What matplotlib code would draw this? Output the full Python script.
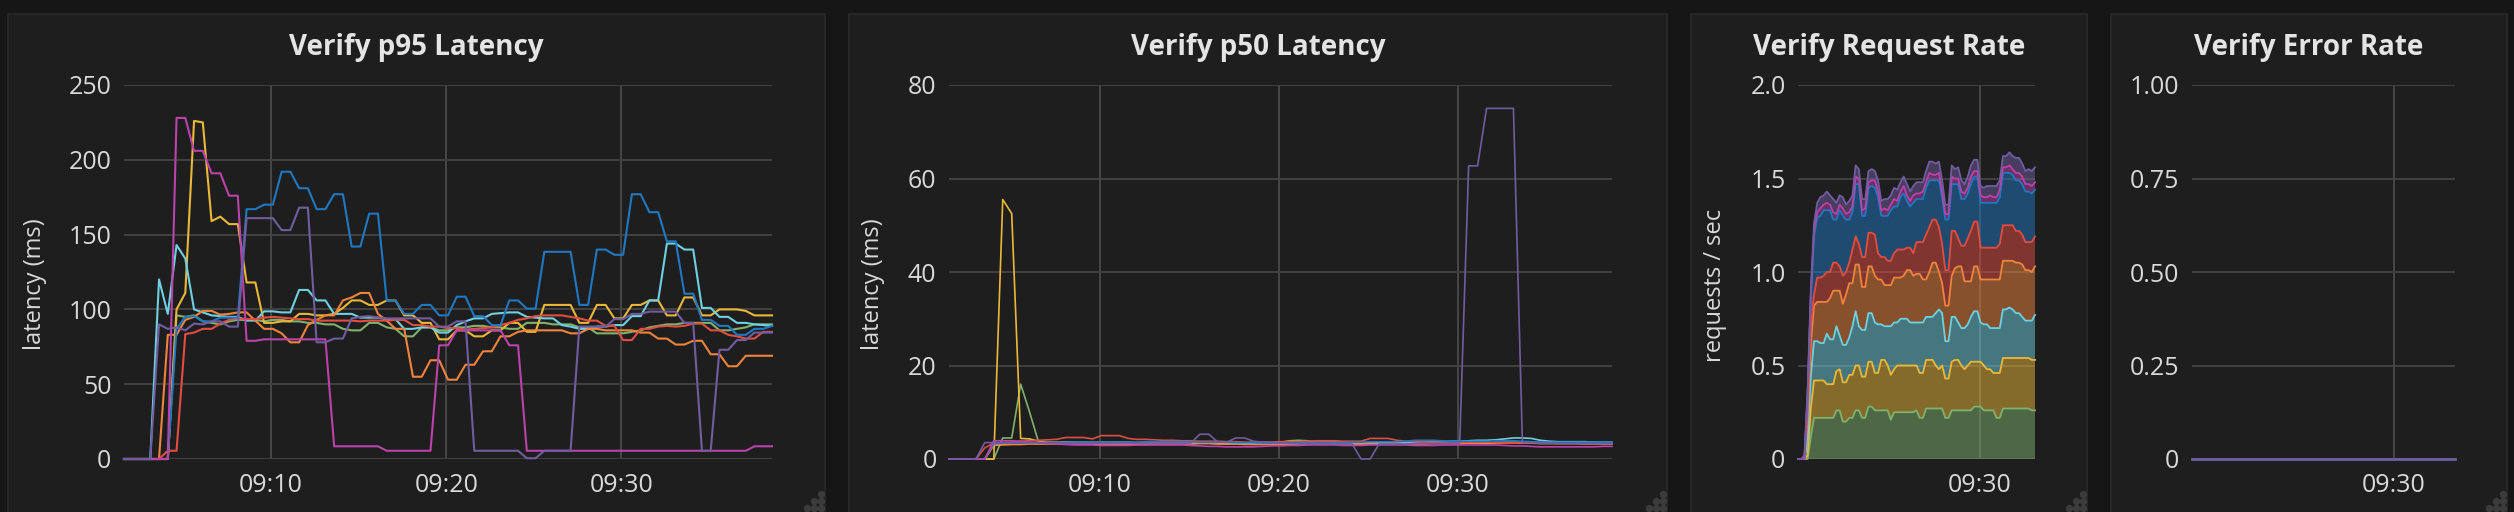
import numpy as np
import pandas as pd
import matplotlib
matplotlib.use("Agg")
import matplotlib.pyplot as plt
import matplotlib.dates as mdates
from matplotlib.patches import Rectangle
from matplotlib.lines import Line2D

plt.rcParams['font.family'] = ['Open Sans', 'DejaVu Sans']

# --- data (30 s samples) ---
day = "2017-06-01"
times = pd.date_range(f"{day} 09:01:36", periods=75, freq="30s")

series_names = ["green", "yellow", "cyan", "orange", "red", "blue", "magenta", "purple"]
colors = ["#7EB26D", "#EAB839", "#6ED0E0", "#EF843C", "#E24D42", "#1F78C1", "#BA43A9", "#705DA0"]

# p95 latency (ms)
p95_green = [0, 0, 0, 0, 0, 0, 96, 95, 96, 92, 91, 90, 92, 93, 93, 93, 92, 93, 93, 92, 92, 91, 91, 90, 90, 87,
             86, 86, 91, 91, 88, 87, 82, 82, 88, 88, 86, 86, 88, 88, 89, 89, 88, 88, 87, 87, 91, 91, 91, 90,
             90, 90, 88, 88, 84, 84, 84, 84, 85, 86, 88, 89, 90, 90, 91, 91, 91, 91, 86, 86, 87, 88, 90, 90, 90]
p95_yellow = [0, 0, 0, 0, 0, 0, 100, 111, 226, 225, 159, 162, 157, 157, 118, 118, 91, 91, 92, 92, 97, 97, 96, 96, 97, 101,
              106, 106, 103, 103, 106, 106, 96, 96, 91, 91, 80, 80, 86, 86, 82, 82, 86, 86, 91, 91, 85, 85, 103, 103,
              103, 103, 91, 91, 103, 103, 94, 94, 103, 103, 106, 106, 96, 96, 108, 108, 96, 96, 100, 100, 100, 99, 96, 96, 96]
p95_cyan = [0, 0, 0, 0, 120, 97, 143, 134, 100, 98, 96, 95.5, 95, 95, 92.5, 92.5, 98.7, 98.7, 98, 98, 113, 113, 106, 106, 97, 97,
            97, 94.5, 94.5, 94.5, 93.5, 93.5, 87, 87, 88, 88, 84.5, 84.5, 89.5, 92, 94, 94, 97, 97.5, 98, 98, 95, 94.5, 94, 94,
            89.5, 88.5, 87, 87, 88.5, 88.5, 89.5, 89.5, 95.5, 95.5, 106, 106, 144, 144, 140, 140, 101, 101, 95, 95, 91, 91, 90, 89.5, 89]
p95_orange = [0, 0, 0, 0, 0, 83, 83, 93, 95, 99, 99, 96.5, 97, 98, 98, 92.5, 87, 87, 84, 78, 78, 89.5, 93, 96, 96, 106,
              108, 111, 111, 97, 92.5, 87, 87, 55, 55, 66, 66, 53, 53, 63, 63, 72, 72, 82, 82, 85, 86, 86, 86, 86,
              86, 84, 84, 87, 87, 86, 86, 86, 86, 84.5, 84.5, 80.5, 80.5, 76.5, 76.5, 79, 79, 70, 70, 62, 62, 69, 69, 69, 69]
p95_red = [0, 0, 0, 0, 0, 5.5, 5.5, 83.5, 84.5, 87, 87, 90.5, 93, 94, 93.5, 93.5, 94.5, 95, 94.5, 94, 93.5, 93.5, 92.5, 92.5, 92.5, 92.5,
           92.5, 92, 92.5, 92.5, 92.5, 93, 93, 89.5, 89.5, 88.5, 88.5, 87.5, 87.5, 86.5, 87, 87.5, 88, 89.5, 91, 93, 94, 95.5, 96, 96,
           96, 95, 94, 92.5, 92.5, 89, 89, 79.5, 79.5, 87, 87, 88.5, 89, 88.5, 89, 90.5, 90.5, 86, 86, 83, 82, 80.5, 80.5, 85, 85]
p95_blue = [0, 0, 0, 0, 0, 0, 87, 95, 95.5, 92, 92, 94.5, 94.5, 94.5, 167, 167, 170, 170, 192, 192, 181, 181, 167, 167, 177, 177,
            142, 142, 164, 164, 106, 106, 97, 97, 103, 103, 96, 96, 108.5, 108.5, 95.5, 95.5, 89.5, 89.5, 106, 106, 100.5, 100.5, 138.5, 138.5,
            138.5, 138.5, 103, 103, 140, 140, 136.5, 136.5, 177, 177, 165, 165, 145.5, 145.5, 110.5, 110.5, 93, 93, 89, 89, 83, 83, 87, 87, 89]
p95_magenta = [0, 0, 0, 0, 0, 0, 228, 228, 206, 206, 191, 191, 176, 176, 79, 79, 80, 80, 80, 80, 80, 80, 80, 80, 8.5, 8.5,
               8.5, 8.5, 8.5, 8.5, 5.5, 5.5, 5.5, 5.5, 5.5, 5.5, 76, 76, 86, 86, 86, 86, 86, 86, 76, 76, 5.5, 5.5, 5.5, 5.5,
               5.5, 5.5, 5.5, 5.5, 5.5, 5.5, 5.5, 5.5, 5.5, 5.5, 5.5, 5.5, 5.5, 5.5, 5.5, 5.5, 5.5, 5.5, 5.5, 5.5, 5.5, 5.5, 8.5, 8.5, 8.5]
p95_purple = [0, 0, 0, 0, 90, 87, 88, 86, 90.5, 90, 92, 92, 88.5, 88.5, 161, 161, 161, 161, 153, 153, 168, 168, 78, 78, 80.5, 80.5,
              94, 95, 95.5, 94.5, 94, 94, 94, 94, 94, 94, 88.5, 88.5, 92, 92, 5.5, 5.5, 5.5, 5.5, 5.5, 5.5, 0.5, 0.5, 5.5, 5.5,
              5.5, 5.5, 88.5, 88.5, 88.5, 88.5, 93.5, 93.5, 97, 97, 98.5, 98.5, 98.5, 98.5, 91, 91, 5.5, 5.5, 73, 73, 79.5, 79.5, 84.5, 84.5, 84.5]

# p50 latency (ms)
p50_green = [0, 0, 0, 0, 0, 0, 4.5, 4.5, 16, 10, 3.6,
             3.6, 3.6, 3.5, 3.5, 3.5, 3.6, 3.6, 3.5, 3.5, 3.4,
             3.4, 3.4, 3.5, 3.5, 3.5, 3.4, 3.4, 3.4, 3.5, 3.5,
             3.4, 3.3, 3.3, 3.4, 3.4, 3.5, 3.6, 3.9, 4.0, 3.9,
             3.6, 3.5, 3.5, 3.5, 3.4, 3.4, 3.4, 3.5, 3.6, 3.6,
             3.5, 3.5, 3.4, 3.5, 3.6, 3.6, 3.5, 3.5, 3.4, 3.4,
             3.5, 3.6, 3.6, 3.5, 3.5, 3.4, 3.4, 3.4, 3.4, 3.4,
             3.4, 3.4, 3.4, 3.4]
p50_yellow = [0, 0, 0, 0, 0, 0, 55.5, 52.5, 4.4, 4.3, 3.8,
              3.5, 3.4, 3.4, 3.3, 3.3, 3.3, 3.3, 3.3, 3.3, 3.3,
              3.2, 3.2, 3.2, 3.2, 3.3, 3.3, 3.3, 3.4, 3.4, 3.3,
              3.3, 3.2, 3.2, 3.3, 3.3, 3.3, 3.2, 3.2, 3.3, 3.3,
              3.3, 3.3, 3.2, 3.2, 3.1, 3.1, 3.2, 3.3, 3.4, 3.4,
              3.3, 3.3, 3.3, 3.4, 3.4, 3.5, 3.5, 3.4, 3.4, 3.4,
              3.4, 3.5, 3.5, 3.6, 3.6, 3.5, 3.5, 3.4, 3.4, 3.4,
              3.4, 3.4, 3.4, 3.4]
p50_cyan = [0, 0, 0, 0, 0, 3.2, 3.3, 3.3, 3.4, 3.4, 3.4,
            3.5, 3.5, 3.6, 3.6, 3.6, 3.5, 3.5, 3.6, 3.6, 3.6,
            3.5, 3.5, 3.5, 3.5, 3.5, 3.4, 3.4, 3.4, 3.4, 3.4,
            3.3, 3.3, 3.2, 3.2, 3.2, 3.3, 3.3, 3.3, 3.3, 3.4,
            3.5, 3.6, 3.6, 3.6, 3.6, 3.5, 3.4, 3.4, 3.5, 3.5,
            3.6, 3.6, 3.6, 3.7, 3.7, 3.8, 3.8, 3.9, 4.0, 4.0,
            4.1, 4.3, 4.5, 4.5, 4.4, 4.0, 3.8, 3.7, 3.7, 3.7,
            3.7, 3.6, 3.6, 3.6]
p50_orange = [0, 0, 0, 0, 0, 2.9, 3.0, 3.1, 3.1, 3.2, 3.2,
              3.2, 3.2, 3.3, 3.3, 3.2, 3.2, 3.2, 3.2, 3.2, 3.1,
              3.1, 3.1, 3.2, 3.2, 3.2, 3.2, 3.2, 3.3, 3.3, 3.2,
              3.2, 3.2, 3.1, 3.1, 3.1, 3.1, 3.2, 3.2, 3.3, 3.3,
              3.3, 3.3, 3.2, 3.2, 3.2, 3.2, 3.2, 3.2, 3.3, 3.3,
              3.2, 3.2, 3.2, 3.3, 3.3, 3.3, 3.3, 3.4, 3.4, 3.5,
              3.5, 3.5, 3.5, 3.4, 3.4, 3.3, 3.3, 3.3, 3.3, 3.3,
              3.2, 3.2, 3.2, 3.2]
p50_red = [0, 0, 0, 0, 2.4, 3.4, 3.5, 3.6, 3.8, 3.9, 4.0,
           4.1, 4.2, 4.6, 4.6, 4.6, 4.3, 5.0, 5.0, 5.0, 4.4,
           4.2, 4.2, 4.1, 4.0, 4.0, 3.9, 3.9, 3.8, 3.8, 3.8,
           3.7, 3.7, 3.6, 3.6, 3.6, 3.6, 3.7, 3.7, 3.7, 3.8,
           3.9, 3.9, 3.9, 3.8, 3.8, 3.8, 4.4, 4.4, 4.4, 4.0,
           3.8, 3.7, 3.6, 3.6, 3.6, 3.6, 3.6, 3.6, 3.6, 3.6,
           3.5, 3.5, 3.5, 3.5, 3.5, 3.4, 3.4, 3.3, 3.3, 3.3,
           3.3, 3.3, 3.3, 3.3]
p50_blue = [0, 0, 0, 0, 0, 3.3, 3.4, 3.4, 3.4, 3.5, 3.5,
            3.5, 3.5, 3.5, 3.6, 3.6, 3.6, 3.6, 3.6, 3.6, 3.6,
            3.6, 3.7, 3.7, 3.7, 3.7, 3.7, 3.7, 3.6, 3.6, 3.6,
            3.6, 3.5, 3.5, 3.5, 3.4, 3.4, 3.4, 3.4, 3.5, 3.5,
            3.5, 3.5, 3.5, 3.5, 3.6, 3.6, 3.7, 3.7, 3.7, 3.7,
            3.8, 4.0, 4.0, 4.0, 3.9, 3.8, 3.8, 3.8, 3.8, 3.8,
            3.9, 3.9, 3.9, 3.8, 3.7, 3.6, 3.6, 3.6, 3.6, 3.6,
            3.6, 3.6, 3.6, 3.6]
p50_magenta = [0, 0, 0, 0, 0, 3.9, 3.9, 3.9, 3.8, 3.6, 3.5,
               3.3, 3.2, 3.1, 3.0, 3.0, 3.0, 2.9, 2.9, 2.9, 2.9,
               3.0, 3.0, 3.0, 3.0, 3.0, 3.0, 2.9, 2.8, 2.7, 2.7,
               2.6, 2.6, 2.6, 2.6, 2.7, 2.8, 2.8, 2.9, 2.9, 3.0,
               3.0, 3.0, 3.0, 2.9, 2.9, 2.9, 3.0, 3.0, 3.0, 3.0,
               3.0, 2.9, 2.9, 2.9, 3.0, 3.0, 3.0, 3.0, 3.0, 3.0,
               3.0, 2.9, 2.8, 2.8, 2.7, 2.6, 2.6, 2.6, 2.6, 2.6,
               2.6, 2.6, 2.7, 2.7]
p50_purple = [0, 0, 0, 0, 3.5, 3.5, 3.4, 3.4, 3.4, 3.5, 3.5,
              3.5, 3.5, 3.4, 3.4, 3.4, 3.4, 3.4, 3.4, 3.4, 3.4,
              3.4, 3.4, 3.4, 3.4, 3.4, 3.4, 3.4, 5.3, 5.3, 3.6,
              3.6, 4.5, 4.5, 3.8, 3.6, 3.6, 3.4, 3.4, 3.3, 3.3,
              3.3, 3.3, 3.2, 3.2, 3.2, 0, 0, 3.2, 3.2, 3.2,
              3.2, 3.3, 3.3, 3.3, 3.3, 3.4, 3.4, 62.7, 62.7, 75,
              75, 75, 75, 3.5, 3.5, 3.4, 3.4, 3.3, 3.3, 3.3,
              3.3, 3.3, 3.3, 3.3]

# request rate (req/s), stacked
rate_green = [0, 0, 0, 0, .12, .22, .22, .22, .22, .22, .22, .22, .26, .26, .20,
              .20, .22, .22, .26, .26, .22, .22, .28, .28, .26, .26, .26, .26, .26, .21,
              .25, .25, .25, .25, .25, .25, .25, .26, .22, .22, .27, .27, .27, .27, .27,
              .27, .22, .22, .26, .26, .26, .26, .26, .26, .26, .28, .28, .28, .26, .26,
              .26, .26, .22, .22, .27, .27, .27, .27, .27, .27, .27, .27, .27, .26, .26]
rate_yellow = [0, 0, 0, .02, .15, .20, .20, .20, .20, .18, .18, .18, .21, .22, .21,
               .21, .23, .23, .24, .24, .22, .22, .24, .24, .20, .20, .27, .27, .24, .24,
               .23, .25, .25, .25, .25, .25, .25, .24, .24, .24, .26, .26, .26, .23, .21,
               .23, .21, .21, .26, .27, .27, .24, .22, .24, .26, .24, .24, .24, .24, .22,
               .22, .20, .24, .24, .27, .27, .27, .27, .27, .27, .27, .27, .27, .27, .27]
rate_cyan = [0, 0, 0, .08, .17, .21, .21, .20, .20, .27, .24, .24, .24, .18, .20,
             .20, .20, .26, .29, .21, .25, .25, .26, .26, .27, .26, .19, .18, .21, .26,
             .25, .23, .25, .25, .25, .23, .23, .23, .27, .27, .23, .23, .23, .28, .32,
             .28, .20, .20, .24, .23, .20, .20, .22, .22, .24, .27, .27, .21, .22, .24,
             .22, .24, .24, .24, .26, .26, .27, .26, .24, .24, .22, .20, .20, .21, .24]
rate_orange = [0, 0, 0, .10, .17, .19, .21, .22, .22, .17, .22, .26, .19, .24, .22,
               .27, .29, .23, .25, .33, .23, .23, .25, .25, .25, .24, .24, .22, .22, .22,
               .24, .24, .22, .23, .26, .28, .25, .26, .26, .23, .20, .24, .29, .27, .20,
               .16, .19, .19, .22, .26, .30, .33, .25, .23, .19, .24, .24, .23, .24, .24,
               .26, .26, .26, .26, .26, .26, .25, .26, .27, .27, .28, .27, .27, .26, .26]
rate_red = [0, 0, 0, .06, .10, .06, .13, .13, .14, .16, .14, .15, .15, .13, .15,
            .12, .11, .18, .15, .11, .16, .16, .18, .18, .22, .14, .12, .15, .13, .13,
            .13, .15, .15, .14, .12, .12, .12, .17, .17, .20, .24, .24, .23, .23, .24,
            .21, .19, .19, .24, .20, .15, .11, .19, .23, .27, .24, .24, .17, .17, .17,
            .17, .17, .17, .19, .19, .19, .19, .19, .17, .17, .16, .15, .15, .16, .16]
rate_blue = [0, 0, 0, .08, .15, .31, .32, .33, .35, .33, .33, .23, .23, .30, .32,
             .28, .23, .20, .28, .32, .22, .22, .24, .25, .25, .30, .22, .22, .24, .27,
             .25, .23, .28, .30, .25, .22, .27, .23, .23, .23, .25, .25, .21, .21, .25,
             .25, .27, .27, .25, .25, .29, .25, .25, .24, .25, .24, .24, .24, .24, .24,
             .24, .24, .24, .25, .28, .28, .28, .27, .27, .27, .27, .27, .27, .26, .25]
rate_magenta = [0, 0, 0, .01, .02, .03, .03, .04, .03, .04, .03, .04, .03, .03, .04,
                .03, .04, .03, .04, .03, .03, .04, .03, .03, .04, .03, .03, .04, .03, .03,
                .04, .03, .03, .04, .03, .03, .04, .03, .03, .04, .03, .04, .03, .03, .04,
                .03, .03, .03, .04, .03, .03, .04, .03, .03, .04, .03, .03, .04, .03, .03,
                .04, .03, .03, .04, .03, .03, .04, .03, .04, .04, .04, .04, .04, .04, .04]
rate_purple = [0, 0, .02, .02, .03, .04, .05, .06, .05, .06, .05, .07, .06, .05, .06,
               .05, .06, .06, .06, .05, .06, .05, .06, .06, .05, .06, .05, .05, .06, .05,
               .06, .06, .05, .05, .06, .05, .05, .06, .06, .05, .06, .06, .07, .06, .06,
               .06, .05, .05, .06, .05, .06, .06, .05, .06, .06, .06, .06, .05, .05, .06,
               .05, .06, .06, .05, .06, .06, .07, .07, .08, .08, .07, .07, .08, .08, .08]

error_rate = [0.0] * 75

p95 = [p95_green, p95_yellow, p95_cyan, p95_orange, p95_red, p95_blue, p95_magenta, p95_purple]
p50 = [p50_green, p50_yellow, p50_cyan, p50_orange, p50_red, p50_blue, p50_magenta, p50_purple]
rates = [rate_green, rate_yellow, rate_cyan, rate_orange, rate_red, rate_blue, rate_magenta, rate_purple]

# --- layout (pixels) ---
W, H = 2514, 512
PAGE_BG = "#161616"
PANEL_BG = "#1f1e1f"
BORDER = "#2a2a2a"
TEXT = "#d8d9da"

fig = plt.figure(figsize=(W / 100, H / 100), dpi=100, facecolor=PAGE_BG)

def fx(x):
    return x / W

def fy(y):
    return 1 - y / H

def panel(x0, x1, title):
    fig.add_artist(Rectangle((fx(x0), fy(530)), fx(x1 - x0), (530 - 14) / H,
                             transform=fig.transFigure, facecolor=PANEL_BG,
                             edgecolor=BORDER, lw=1.2, zorder=-10))
    fig.text(fx((x0 + x1) / 2), fy(47), title, ha="center", va="center",
             fontsize=20, fontweight="bold", color="#e4e4e4")
    # resize handle dots
    for dx, dy in [(4, 494), (11, 501), (4, 501), (18, 508), (11, 508), (4, 508)]:
        fig.add_artist(Line2D([fx(x1 - dx)], [fy(dy)], marker="o", ms=4.3, lw=0,
                              color="#3c3c3c", transform=fig.transFigure))

def make_axes(x0, x1):
    return fig.add_axes([fx(x0), fy(459), fx(x1 - x0), (459 - 85) / H])

t0, t1 = times[0], times[-1]
ticks_3 = [pd.Timestamp(f"{day} 09:{m}") for m in ("10", "20", "30")]
ticks_1 = [pd.Timestamp(f"{day} 09:30")]

def style(ax, ylim, yticks, ylabels, xticks):
    ax.set_facecolor("none")
    for s in ax.spines.values():
        s.set_visible(False)
    ax.set_xlim(t0, t1)
    ax.set_ylim(*ylim)
    ax.set_yticks(yticks, ylabels)
    ax.set_xticks(xticks)
    ax.xaxis.set_major_formatter(mdates.DateFormatter("%H:%M"))
    ax.tick_params(axis="both", length=0, labelsize=18, colors=TEXT)
    ax.tick_params(axis="y", pad=9)
    ax.tick_params(axis="x", pad=10)
    ax.grid(axis="y", color="#444444", lw=1.3)
    ax.grid(axis="x", color="#4a4a4a", lw=1.3)
    ax.set_axisbelow(True)

# panel 1: p95
panel(8, 825, "Verify p95 Latency")
ax1 = make_axes(124, 772)
style(ax1, (0, 250), [0, 50, 100, 150, 200, 250], ["0", "50", "100", "150", "200", "250"], ticks_3)
for vals, c in zip(p95, colors):
    ax1.plot(times, vals, color=c, lw=1.5, clip_on=False)
fig.text(fx(35), fy(284), "latency (ms)", rotation=90, ha="center", va="center", fontsize=17, color=TEXT)

# panel 2: p50
panel(849, 1667, "Verify p50 Latency")
ax2 = make_axes(949, 1612)
style(ax2, (0, 80), [0, 20, 40, 60, 80], ["0", "20", "40", "60", "80"], ticks_3)
for vals, c in zip(p50, colors):
    ax2.plot(times, vals, color=c, lw=1.2, clip_on=False)
fig.text(fx(873), fy(284), "latency (ms)", rotation=90, ha="center", va="center", fontsize=17, color=TEXT)

# panel 3: request rate (stacked)
panel(1691, 2087, "Verify Request Rate")
ax3 = make_axes(1798, 2035)
style(ax3, (0, 2.0), [0, 0.5, 1.0, 1.5, 2.0], ["0", "0.5", "1.0", "1.5", "2.0"], ticks_1)
ax3.stackplot(times, *rates, colors=colors, alpha=0.5, lw=0)
tops = np.cumsum(np.array(rates), axis=0)
for top, c in zip(tops, colors):
    ax3.plot(times, top, color=c, lw=1.3, clip_on=False)
fig.text(fx(1715), fy(285), "requests / sec", rotation=90, ha="center", va="center", fontsize=17, color=TEXT)

# panel 4: error rate
panel(2111, 2507, "Verify Error Rate")
ax4 = make_axes(2192, 2455)
style(ax4, (0, 1.0), [0, 0.25, 0.5, 0.75, 1.0], ["0", "0.25", "0.50", "0.75", "1.00"], ticks_1)
ax4.plot(times, error_rate, color=colors[7], lw=2, clip_on=False)

fig.savefig("out.png", dpi=100, facecolor=PAGE_BG)
